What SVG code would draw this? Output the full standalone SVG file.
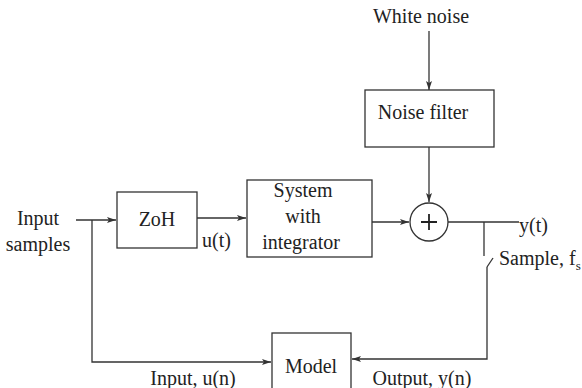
<svg xmlns="http://www.w3.org/2000/svg" width="582" height="388" viewBox="0 0 582 388">
<style>
text{font-family:"Liberation Serif","Times New Roman",serif;font-size:20px;fill:#222}
.b{fill:#fff;stroke:#333;stroke-width:1.3}
.l{fill:none;stroke:#333;stroke-width:1.3}
</style>
<defs>
<marker id="a" markerWidth="10" markerHeight="8" refX="9" refY="4" orient="auto" markerUnits="userSpaceOnUse">
<path d="M0,1 L9,4 L0,7 L2,4 Z" fill="#333"/>
</marker>
</defs>
<rect width="582" height="388" fill="#fff"/>
<g id="connectors">
<path class="l" d="M76,220 H116" marker-end="url(#a)"/>
<path class="l" d="M92,220 V362 H271" marker-end="url(#a)"/>
<path class="l" d="M197,218 H246" marker-end="url(#a)"/>
<path class="l" d="M372,222 H409" marker-end="url(#a)"/>
<path class="l" d="M429,31 V90" marker-end="url(#a)"/>
<path class="l" d="M429,147 V202" marker-end="url(#a)"/>
<path class="l" d="M448,222 H519"/>
<path class="l" d="M484,222 V256"/>
<path class="l" d="M493,258 L487,267"/>
<path class="l" d="M487,267 V359 H352" marker-end="url(#a)"/>
</g>
<g id="input-samples"><text x="38" y="225" text-anchor="middle">Input</text><text x="38" y="251" text-anchor="middle">samples</text></g>
<g id="zoh"><rect class="b" x="117" y="192" width="80" height="56"/><text x="157" y="226" text-anchor="middle">ZoH</text></g>
<text x="202" y="247">u(t)</text>
<g id="system"><rect class="b" x="247" y="180" width="125" height="77"/><text x="303" y="197" text-anchor="middle">System</text><text x="303" y="223" text-anchor="middle">with</text><text x="301" y="249" text-anchor="middle">integrator</text></g>
<g id="white-noise"><text x="421" y="23" text-anchor="middle">White noise</text></g>
<g id="noise-filter"><rect class="b" x="365" y="90" width="129" height="57"/><text x="423" y="119" text-anchor="middle">Noise filter</text></g>
<g id="sum"><circle class="b" cx="429" cy="222" r="19"/><path fill="none" stroke="#222" stroke-width="1.8" d="M421,222 H437 M429,214 V230"/></g>
<g id="yt"><text x="519" y="232">y(t)</text></g>
<g id="sample"><text x="499" y="265">Sample, f<tspan font-size="13" dy="5">s</tspan></text></g>
<g id="model"><rect class="b" x="272" y="333" width="79" height="62"/><text x="311" y="373" text-anchor="middle">Model</text></g>
<text x="193" y="385" text-anchor="middle">Input, u(n)</text>
<text x="422" y="385" text-anchor="middle">Output, y(n)</text>
</svg>
